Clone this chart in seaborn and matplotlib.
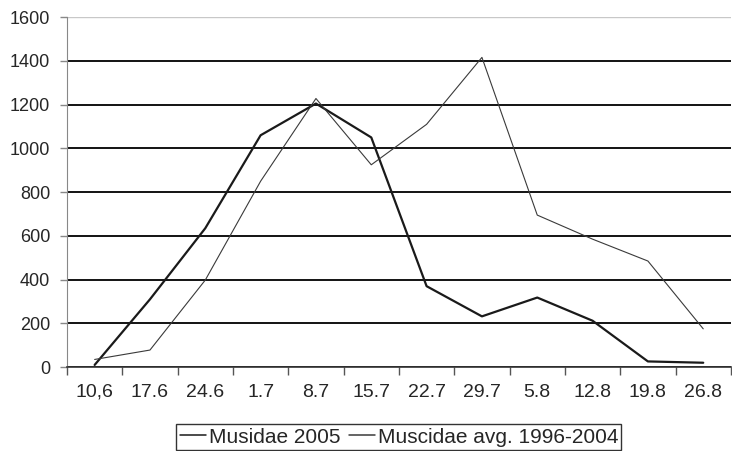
import pandas as pd
import seaborn as sns
import matplotlib.pyplot as plt
from matplotlib.ticker import FixedLocator

# dates (day.month) of the sampling
dates = ["10,6", "17.6", "24.6", "1.7", "8.7", "15.7", "22.7", "29.7",
         "5.8", "12.8", "19.8", "26.8"]
musidae_2005 = [10, 310, 635, 1060, 1205, 1050, 370, 232, 318, 212, 26, 20]
muscidae_avg = [35, 78, 398, 850, 1228, 925, 1110, 1416, 695, 585, 485, 175]
y_ticks = [0, 200, 400, 600, 800, 1000, 1200, 1400, 1600]

df = pd.DataFrame({"date": dates,
                   "Musidae 2005": musidae_2005,
                   "Muscidae avg. 1996-2004": muscidae_avg})
df["pos"] = range(len(dates))

sns.set_style("white")
plt.rcParams["font.family"] = ["Liberation Sans", "DejaVu Sans"]
plt.rcParams["font.size"] = 14

fig = plt.figure(figsize=(7.32, 4.51), dpi=100)
ax = fig.add_axes([0.0915, 0.186, 0.907, 0.776])

sns.lineplot(data=df, x="pos", y="Musidae 2005", color="#1a1a1a", lw=1.6,
             ax=ax, label="Musidae 2005")
sns.lineplot(data=df, x="pos", y="Muscidae avg. 1996-2004", color="#3a3a3a",
             lw=0.8, ax=ax, label="Muscidae avg. 1996-2004")

ax.set_xlim(-0.5, len(dates) - 0.5)
ax.set_ylim(0, 1600)
ax.set_yticks(y_ticks)
ax.set_xticks(df["pos"])
ax.set_xticklabels(dates)
ax.xaxis.set_minor_locator(FixedLocator([i - 0.5 for i in range(len(dates) + 1)]))
ax.tick_params(axis="x", which="major", length=0, pad=12, labelsize=14)
ax.tick_params(axis="x", which="minor", length=6, width=1, color="#555555",
               direction="out", bottom=True)
ax.tick_params(axis="y", length=5, width=1, color="#888888", direction="out",
               left=True, labelsize=13, pad=7)

ax.grid(axis="y", color="black", lw=1.3)
ax.yaxis.get_gridlines()[-1].set_color("#c8c8c8")
ax.yaxis.get_gridlines()[-1].set_linewidth(1)
ax.set_axisbelow(True)

for s in ["top", "right"]:
    ax.spines[s].set_visible(False)
ax.spines["left"].set_color("#888888")
ax.spines["bottom"].set_color("#333333")
ax.spines["bottom"].set_linewidth(1.2)

ax.set_xlabel("")
ax.set_ylabel("")

leg = ax.legend(loc="center", bbox_to_anchor=(0.5, -0.2), ncol=2,
                frameon=True, fancybox=False, handlelength=1.25,
                handletextpad=0.15, columnspacing=0.4, borderpad=0.15,
                borderaxespad=0, fontsize=15)
leg.get_frame().set_edgecolor("black")
leg.get_frame().set_linewidth(1)
for h in leg.get_lines():
    h.set_linewidth(1.1)

fig.savefig("out.png", dpi=100)
